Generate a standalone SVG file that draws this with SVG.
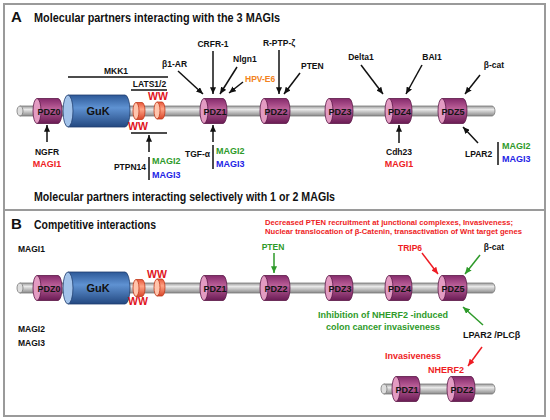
<svg xmlns="http://www.w3.org/2000/svg" width="550" height="420" viewBox="0 0 550 420">
<defs>
<linearGradient id="gBack" x1="0" y1="0" x2="0" y2="1"><stop offset="0" stop-color="#9a9a9a"/><stop offset="0.35" stop-color="#e8e8e8"/><stop offset="1" stop-color="#8a8a8a"/></linearGradient>
<linearGradient id="gPdz" x1="0" y1="0" x2="0" y2="1"><stop offset="0" stop-color="#852a6b"/><stop offset="0.4" stop-color="#bb5f98"/><stop offset="1" stop-color="#6a1b54"/></linearGradient>
<linearGradient id="gGuk" x1="0" y1="0" x2="0" y2="1"><stop offset="0" stop-color="#2d5998"/><stop offset="0.4" stop-color="#5f92d2"/><stop offset="1" stop-color="#234880"/></linearGradient>
<linearGradient id="gWw" x1="0" y1="0" x2="0" y2="1"><stop offset="0" stop-color="#e6563a"/><stop offset="0.4" stop-color="#ffa486"/><stop offset="1" stop-color="#d8462a"/></linearGradient>
<marker id="ak" viewBox="0 0 8 7" refX="8" refY="3.5" markerWidth="7" markerHeight="6" markerUnits="userSpaceOnUse" orient="auto"><path d="M0,0 L8,3.5 L0,7 z" fill="#111"/></marker>
<marker id="ag" viewBox="0 0 8 7" refX="8" refY="3.5" markerWidth="7" markerHeight="6" markerUnits="userSpaceOnUse" orient="auto"><path d="M0,0 L8,3.5 L0,7 z" fill="#2e9a2a"/></marker>
<marker id="ar" viewBox="0 0 8 7" refX="8" refY="3.5" markerWidth="7" markerHeight="6" markerUnits="userSpaceOnUse" orient="auto"><path d="M0,0 L8,3.5 L0,7 z" fill="#ee1c24"/></marker>
</defs>
<style>
text{font-family:"Liberation Sans",Arial,sans-serif;font-weight:bold;fill:#111}
.t{font-size:13px}
.L{font-size:15px}
.l{font-size:8.5px}
.m{font-size:9px}
.c{text-anchor:middle}
.r{text-anchor:end}
.red{fill:#ee1c24}
.grn{fill:#2e9a2a}
.blu{fill:#2323e6}
.org{fill:#f28220}
.ww{font-size:10.5px;fill:#e0141c}
.pl{font-size:9px;text-anchor:middle;fill:#141414}
.gl{font-size:11px;text-anchor:middle;fill:#111}
.back{fill:url(#gBack);stroke:#7a7a7a;stroke-width:0.8}
.backf{fill:#dedede;stroke:#7a7a7a;stroke-width:0.8}
.pdz{fill:url(#gPdz);stroke:#5a1746;stroke-width:0.8}
.pdzf{fill:#e39bc2;stroke:#5a1746;stroke-width:0.8}
.guk{fill:url(#gGuk);stroke:#1f3d6e;stroke-width:0.8}
.gukf{fill:#a3c3ea;stroke:#1f3d6e;stroke-width:0.8}
.wwb{fill:url(#gWw);stroke:#c03a1c;stroke-width:0.8}
.wwf{fill:#ffc4ac;stroke:#c03a1c;stroke-width:0.8}
.k{stroke:#111;stroke-width:1.5;fill:none}
.ka{stroke:#111;stroke-width:1.5;fill:none;marker-end:url(#ak)}
.ga{stroke:#2e9a2a;stroke-width:1.5;fill:none;marker-end:url(#ag)}
.ra{stroke:#ee1c24;stroke-width:1.5;fill:none;marker-end:url(#ar)}
.frame{fill:#fff;stroke:#9a9a9a;stroke-width:2}
</style>
<rect x="0" y="0" width="550" height="420" fill="#fff"/>
<rect class="frame" x="4" y="4" width="541" height="206"/>
<rect class="frame" x="4" y="210" width="541" height="206"/>

<!-- Panel A titles -->
<text class="L" x="11" y="22">A</text>
<text class="t" x="34" y="22" textLength="246" lengthAdjust="spacingAndGlyphs">Molecular partners interacting with the 3 MAGIs</text>
<text class="t" x="34" y="201" textLength="301" lengthAdjust="spacingAndGlyphs">Molecular partners interacting selectively with 1 or 2 MAGIs</text>

<!-- Panel A protein -->
<g id="A-backbone"><path class="back" d="M20,106 H492 A3,5 0 0 1 492,116 H20 Z"/><ellipse class="backf" cx="20" cy="111" rx="3" ry="5"/></g>
<g id="A-PDZ0"><path class="pdz" d="M37,98.5 H58 A4,12.5 0 0 1 58,123.5 H37 Z"/><ellipse class="pdzf" cx="37" cy="111" rx="4" ry="12.5"/><text class="pl" x="49" y="114.5">PDZ0</text></g>
<g id="A-GuK"><path class="guk" d="M68,95 H125 A5,16 0 0 1 125,127 H68 Z"/><ellipse class="gukf" cx="68" cy="111" rx="5" ry="16"/><text class="gl" x="98" y="115">GuK</text></g>
<g id="A-WW1"><path class="wwb" d="M136,102.5 H142 A3,8.5 0 0 1 142,119.5 H136 Z"/><ellipse class="wwf" cx="136" cy="111" rx="3" ry="8.5"/></g>
<g id="A-WW2"><path class="wwb" d="M157,102 H162 A3,8.5 0 0 1 162,119 H157 Z"/><ellipse class="wwf" cx="157" cy="110.5" rx="3" ry="8.5"/></g>
<text class="ww c" x="158" y="100">WW</text>
<text class="ww c" x="138" y="130">WW</text>
<g id="A-PDZ1"><path class="pdz" d="M204,98.5 H223 A4,12.5 0 0 1 223,123.5 H204 Z"/><ellipse class="pdzf" cx="204" cy="111" rx="4" ry="12.5"/><text class="pl" x="215" y="114.5">PDZ1</text></g>
<g id="A-PDZ2"><path class="pdz" d="M264,98.5 H286 A4,12.5 0 0 1 286,123.5 H264 Z"/><ellipse class="pdzf" cx="264" cy="111" rx="4" ry="12.5"/><text class="pl" x="276" y="114.5">PDZ2</text></g>
<g id="A-PDZ3"><path class="pdz" d="M329,98.5 H349 A4,12.5 0 0 1 349,123.5 H329 Z"/><ellipse class="pdzf" cx="329" cy="111" rx="4" ry="12.5"/><text class="pl" x="340" y="114.5">PDZ3</text></g>
<g id="A-PDZ4"><path class="pdz" d="M389,98.5 H408 A4,12.5 0 0 1 408,123.5 H389 Z"/><ellipse class="pdzf" cx="389" cy="111" rx="4" ry="12.5"/><text class="pl" x="399.5" y="114.5">PDZ4</text></g>
<g id="A-PDZ5"><path class="pdz" d="M442,98.5 H463 A4,12.5 0 0 1 463,123.5 H442 Z"/><ellipse class="pdzf" cx="442" cy="111" rx="4" ry="12.5"/><text class="pl" x="453" y="114.5">PDZ5</text></g>

<!-- Panel A labels -->
<g id="A-labels">
<text class="l c" x="116" y="74">MKK1</text>
<text class="l c" x="149.5" y="87">LATS1/2</text>
<text class="l" x="162" y="67">β1-AR</text>
<text class="l c" x="213" y="47">CRFR-1</text>
<text class="l" x="233" y="62">Nlgn1</text>
<text class="l org" x="245" y="82">HPV-E6</text>
<text class="l c" x="279" y="46">R-PTP-ζ</text>
<text class="l" x="301" y="69">PTEN</text>
<text class="l c" x="361" y="60">Delta1</text>
<text class="l c" x="432" y="60">BAI1</text>
<text class="l c" x="494" y="68">β-cat</text>
<text class="l c" x="47" y="155">NGFR</text>
<text class="m c red" x="47" y="167">MAGI1</text>
<text class="l r" x="146" y="170">PTPN14</text>
<text class="m grn" x="152" y="164">MAGI2</text>
<text class="m blu" x="152" y="178">MAGI3</text>
<text class="l r" x="210" y="157">TGF-α</text>
<text class="m grn" x="216" y="154">MAGI2</text>
<text class="m blu" x="216" y="167">MAGI3</text>
<text class="l c" x="399" y="155">Cdh23</text>
<text class="m c red" x="399" y="167">MAGI1</text>
<text class="l" x="465" y="157">LPAR2</text>
<text class="m grn" x="502" y="149">MAGI2</text>
<text class="m blu" x="502" y="162">MAGI3</text>
</g>

<!-- Panel B -->
<text class="L" x="11" y="229">B</text>
<text class="t" x="34" y="229" textLength="122" lengthAdjust="spacingAndGlyphs">Competitive interactions</text>
<text class="red" style="font-size:7.5px" x="265" y="225" textLength="248" lengthAdjust="spacingAndGlyphs">Decreased PTEN recruitment at junctional complexes, Invasiveness;</text>
<text class="red" style="font-size:7.5px" x="265" y="234" textLength="257" lengthAdjust="spacingAndGlyphs">Nuclear translocation of β-Catenin, transactivation of Wnt target genes</text>
<text class="l" x="18" y="252">MAGI1</text>
<text class="l" x="18" y="332">MAGI2</text>
<text class="l" x="18" y="346">MAGI3</text>

<g id="B-backbone" transform="translate(0,177)"><path class="back" d="M20,106 H492 A3,5 0 0 1 492,116 H20 Z"/><ellipse class="backf" cx="20" cy="111" rx="3" ry="5"/></g>
<g id="B-PDZ0" transform="translate(0,177)"><path class="pdz" d="M37,98.5 H58 A4,12.5 0 0 1 58,123.5 H37 Z"/><ellipse class="pdzf" cx="37" cy="111" rx="4" ry="12.5"/><text class="pl" x="49" y="114.5">PDZ0</text></g>
<g id="B-GuK" transform="translate(0,177)"><path class="guk" d="M68,95 H125 A5,16 0 0 1 125,127 H68 Z"/><ellipse class="gukf" cx="68" cy="111" rx="5" ry="16"/><text class="gl" x="98" y="115">GuK</text></g>
<g id="B-WW1" transform="translate(0,177)"><path class="wwb" d="M136,102.5 H142 A3,8.5 0 0 1 142,119.5 H136 Z"/><ellipse class="wwf" cx="136" cy="111" rx="3" ry="8.5"/></g>
<g id="B-WW2" transform="translate(0,177)"><path class="wwb" d="M157,102 H162 A3,8.5 0 0 1 162,119 H157 Z"/><ellipse class="wwf" cx="157" cy="110.5" rx="3" ry="8.5"/></g>
<text class="ww c" x="157" y="278">WW</text>
<text class="ww c" x="138" y="305">WW</text>
<g id="B-PDZ1" transform="translate(0,177)"><path class="pdz" d="M204,98.5 H223 A4,12.5 0 0 1 223,123.5 H204 Z"/><ellipse class="pdzf" cx="204" cy="111" rx="4" ry="12.5"/><text class="pl" x="215" y="114.5">PDZ1</text></g>
<g id="B-PDZ2" transform="translate(0,177)"><path class="pdz" d="M264,98.5 H286 A4,12.5 0 0 1 286,123.5 H264 Z"/><ellipse class="pdzf" cx="264" cy="111" rx="4" ry="12.5"/><text class="pl" x="276" y="114.5">PDZ2</text></g>
<g id="B-PDZ3" transform="translate(0,177)"><path class="pdz" d="M329,98.5 H349 A4,12.5 0 0 1 349,123.5 H329 Z"/><ellipse class="pdzf" cx="329" cy="111" rx="4" ry="12.5"/><text class="pl" x="340" y="114.5">PDZ3</text></g>
<g id="B-PDZ4" transform="translate(0,177)"><path class="pdz" d="M389,98.5 H408 A4,12.5 0 0 1 408,123.5 H389 Z"/><ellipse class="pdzf" cx="389" cy="111" rx="4" ry="12.5"/><text class="pl" x="399.5" y="114.5">PDZ4</text></g>
<g id="B-PDZ5" transform="translate(0,177)"><path class="pdz" d="M442,98.5 H463 A4,12.5 0 0 1 463,123.5 H442 Z"/><ellipse class="pdzf" cx="442" cy="111" rx="4" ry="12.5"/><text class="pl" x="453" y="114.5">PDZ5</text></g>

<g id="NHERF2-backbone" transform="translate(0,278)"><path class="back" d="M384,106 H492 A3,5 0 0 1 492,116 H384 Z"/><ellipse class="backf" cx="384" cy="111" rx="3" ry="5"/></g>
<g id="NHERF2-PDZ1" transform="translate(0,278)"><path class="pdz" d="M396,98.5 H416 A4,12.5 0 0 1 416,123.5 H396 Z"/><ellipse class="pdzf" cx="396" cy="111" rx="4" ry="12.5"/><text class="pl" x="407" y="114.5">PDZ1</text></g>
<g id="NHERF2-PDZ2" transform="translate(0,278)"><path class="pdz" d="M451,98.5 H471 A4,12.5 0 0 1 471,123.5 H451 Z"/><ellipse class="pdzf" cx="451" cy="111" rx="4" ry="12.5"/><text class="pl" x="462" y="114.5">PDZ2</text></g>

<g id="B-labels">
<text class="l c grn" x="273" y="250">PTEN</text>
<text class="l c red" x="410" y="251">TRIP6</text>
<text class="l c" x="494" y="250">β-cat</text>
<text class="m c grn" x="383" y="318">Inhibition of NHERF2 -induced</text>
<text class="m c grn" x="383" y="330">colon cancer invasiveness</text>
<text class="m" x="463" y="338">LPAR2 /PLCβ</text>
<text class="m red" x="385" y="359">Invasiveness</text>
<text class="m red" x="428" y="373">NHERF2</text>
</g>

<!-- Connectors -->
<g id="connectors">
<line class="k" x1="68" y1="77" x2="168" y2="77"/>
<line class="k" x1="131" y1="90" x2="167" y2="90"/>
<line class="ka" x1="178" y1="71" x2="203" y2="94"/>
<line class="ka" x1="213" y1="51" x2="213" y2="94"/>
<line class="ka" x1="237" y1="67" x2="220" y2="94"/>
<line class="ka" x1="243" y1="82" x2="229" y2="93"/>
<line class="ka" x1="279" y1="50" x2="279" y2="94"/>
<line class="ka" x1="300" y1="73" x2="284" y2="94"/>
<line class="ka" x1="361" y1="65" x2="383" y2="94"/>
<line class="ka" x1="422" y1="65" x2="406" y2="94"/>
<line class="ka" x1="480" y1="75" x2="465" y2="94"/>
<line class="ka" x1="47" y1="142" x2="47" y2="125"/>
<line class="k" x1="131" y1="133" x2="167" y2="133"/>
<line class="ka" x1="149" y1="152" x2="149" y2="135"/>
<line class="k" x1="149" y1="157" x2="149" y2="180"/>
<line class="ka" x1="213" y1="142" x2="213" y2="125"/>
<line class="k" x1="213" y1="145" x2="213" y2="169"/>
<line class="ka" x1="399" y1="143" x2="399" y2="125"/>
<line class="ka" x1="478" y1="143" x2="463" y2="127"/>
<line class="k" x1="498" y1="142" x2="498" y2="165"/>
<line class="ga" x1="274" y1="253" x2="274" y2="273"/>
<line class="ra" x1="422" y1="253" x2="438" y2="274"/>
<line class="ga" x1="480" y1="255" x2="465" y2="274"/>
<line class="ga" x1="483" y1="325" x2="463" y2="307"/>
<line class="ra" x1="482" y1="347" x2="468" y2="366"/>
</g>
</svg>
